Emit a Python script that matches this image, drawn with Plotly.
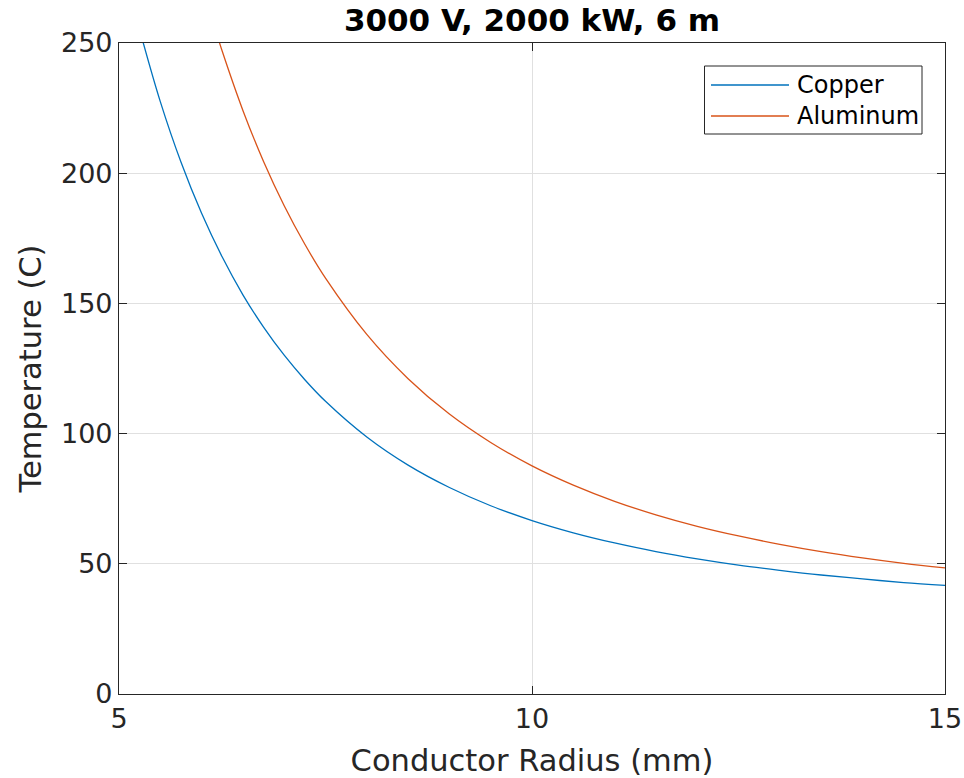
import plotly.graph_objects as go

# Data (radius in mm, temperature in C)
copper_r = [5.28, 5.50, 5.75, 6.00, 6.25, 6.50, 6.75, 7.00, 7.25, 7.50, 8.00, 8.50,
            9.00, 9.50, 10.00, 10.50, 11.00, 11.50, 12.00, 12.50, 13.00, 13.50,
            14.00, 14.50, 15.00]
copper_t = [251.6, 227.5, 204.3, 184.6, 167.8, 153.3, 140.9, 130.1, 120.7, 112.4, 98.7, 87.9,
            79.3, 72.3, 66.6, 61.9, 58.0, 54.7, 51.9, 49.5, 47.5, 45.7,
            44.2, 42.8, 41.7]

alum_r = [6.20, 6.25, 6.50, 6.75, 7.00, 7.25, 7.50, 8.00, 8.50, 9.00, 9.50, 10.00,
          10.50, 11.00, 11.50, 12.00, 12.50, 13.00, 13.50, 14.00, 14.50, 15.00]
alum_t = [251.8, 246.8, 224.1, 204.5, 187.5, 172.7, 159.7, 138.1, 121.1, 107.5, 96.6, 87.6,
          80.2, 74.0, 68.8, 64.4, 60.7, 57.5, 54.7, 52.3, 50.2, 48.4]

series_names = ["Copper", "Aluminum"]
series_colors = ["#0072BD", "#D95319"]

x_ticks = [5, 10, 15]
y_ticks = [0, 50, 100, 150, 200, 250]

title_text = "3000 V, 2000 kW, 6 m"
x_label = "Conductor Radius (mm)"
y_label = "Temperature (C)"

FONT = "DejaVu Sans"
AX = "#262626"
W, H = 964, 778
ML, MR, MT, MB = 119, 19, 43, 84
PW, PH = W - ML - MR, H - MT - MB


def px_x(px):
    return (px - ML) / PW


def px_y(py):
    return (H - MB - py) / PH


fig = go.Figure()
for r, t, name, col in zip([copper_r, alum_r], [copper_t, alum_t], series_names, series_colors):
    fig.add_trace(go.Scatter(x=r, y=t, mode="lines", name=name,
                             line=dict(color=col, width=1.3, shape="spline", smoothing=1),
                             showlegend=False))

axis_common = dict(
    showline=True, linecolor=AX, linewidth=1.2, mirror="ticks",
    ticks="inside", ticklen=8, tickwidth=1, tickcolor=AX,
    showgrid=True, gridcolor="#e0e0e0", gridwidth=1, zeroline=False,
    tickfont=dict(family=FONT, size=27, color=AX),
    automargin=False,
)

fig.update_xaxes(range=[5, 15], tickvals=x_ticks, ticktext=[str(v) for v in x_ticks],
                 title=dict(text=x_label, font=dict(family=FONT, size=30.5, color=AX), standoff=21),
                 **axis_common)
fig.update_yaxes(range=[0, 250], tickvals=y_ticks, ticktext=[str(v) for v in y_ticks],
                 title=dict(text=y_label, font=dict(family=FONT, size=30.5, color=AX), standoff=10),
                 **axis_common)

# Legend drawn MATLAB-style (box, long line samples, labels)
shapes = [dict(type="rect", xref="paper", yref="paper",
               x0=px_x(704.5), x1=px_x(922), y0=px_y(134), y1=px_y(66),
               line=dict(color=AX, width=1), fillcolor="white", layer="above")]
annotations = []
for name, col, ly in zip(series_names, series_colors, [85, 116]):
    shapes.append(dict(type="line", xref="paper", yref="paper",
                       x0=px_x(711), x1=px_x(789), y0=px_y(ly), y1=px_y(ly),
                       line=dict(color=col, width=1.3), layer="above"))
    annotations.append(dict(text=name, xref="paper", yref="paper",
                            x=px_x(795), y=px_y(ly), xanchor="left", yanchor="middle",
                            showarrow=False, font=dict(family=FONT, size=24, color="#000000")))

fig.update_layout(
    template="none",
    width=W, height=H, autosize=False,
    margin=dict(l=ML, r=MR, t=MT, b=MB, autoexpand=False),
    paper_bgcolor="white", plot_bgcolor="white",
    title=dict(text="<b>" + title_text + "</b>", x=px_x(532), xref="paper", xanchor="center",
               y=1 - 20 / H, yref="container", yanchor="middle",
               font=dict(family=FONT, size=31, color="#000000")),
    shapes=shapes, annotations=annotations,
    showlegend=False,
)

fig.write_html("out.html")
